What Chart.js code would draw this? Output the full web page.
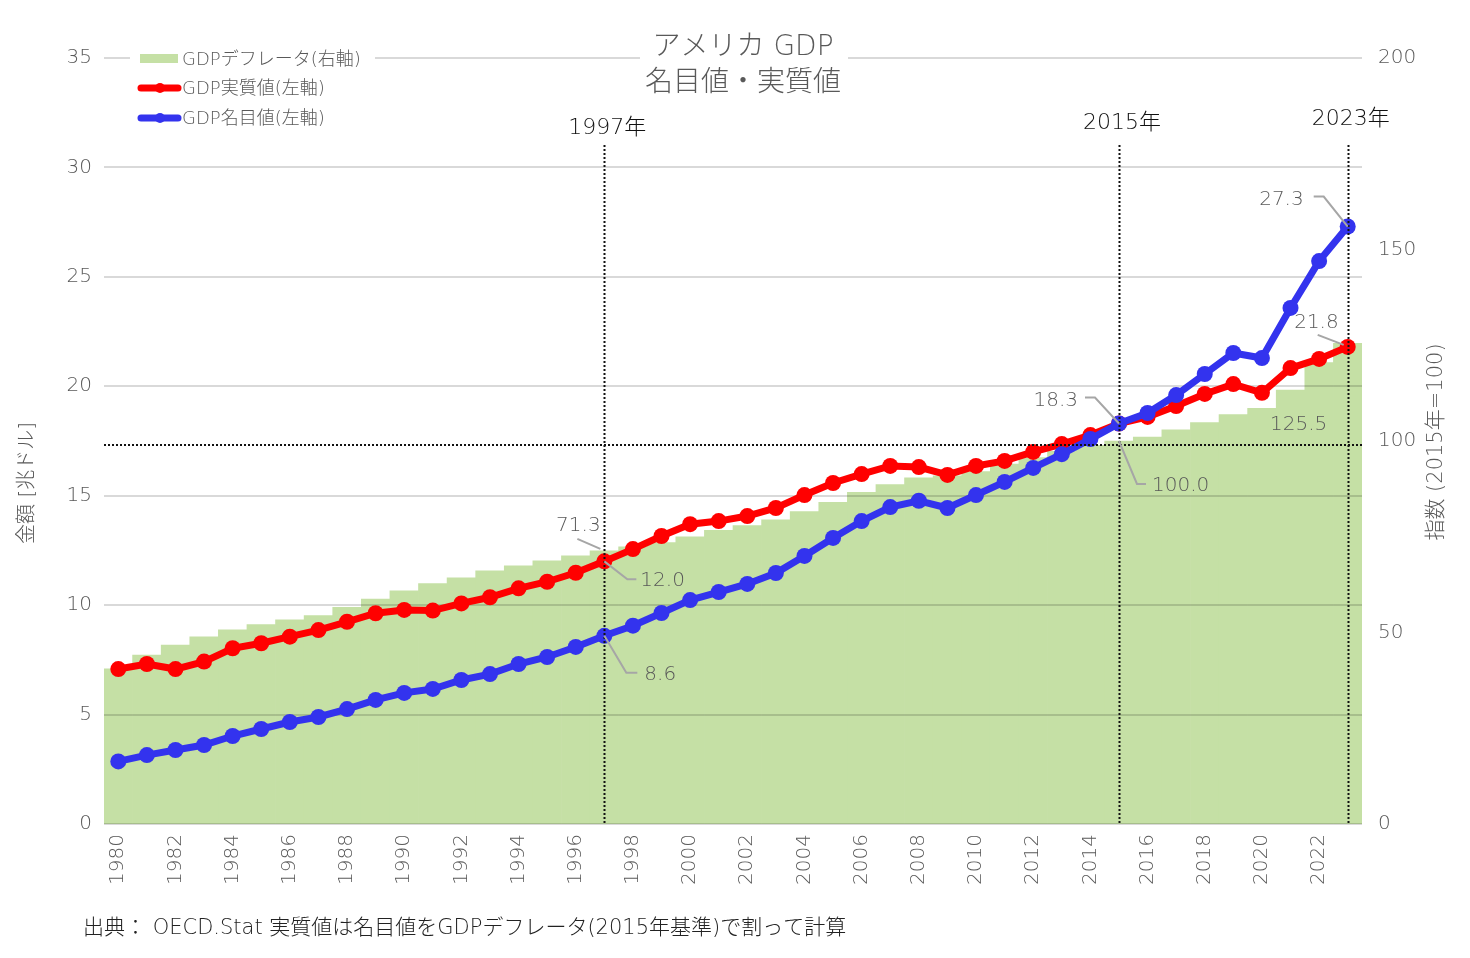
<!DOCTYPE html>
<html><head><meta charset="utf-8">
<script src="https://cdn.jsdelivr.net/npm/chart.js@4.4.0/dist/chart.umd.min.js"></script>
<style>html,body{margin:0;padding:0;background:#fff;}#wrap{position:relative;width:1470px;height:958px;}canvas{display:block;}</style>
</head><body><div id="wrap"><canvas id="c" width="1470" height="958" style="width:1470px;height:958px"></canvas></div>
<script>
const years = ["1980","1981","1982","1983","1984","1985","1986","1987","1988","1989",
"1990","1991","1992","1993","1994","1995","1996","1997","1998","1999",
"2000","2001","2002","2003","2004","2005","2006","2007","2008","2009",
"2010","2011","2012","2013","2014","2015","2016","2017","2018","2019",
"2020","2021","2022","2023"];
const nominal = [2.86,3.15,3.38,3.61,4.02,4.34,4.66,4.89,5.25,5.67,
5.99,6.17,6.58,6.85,7.31,7.63,8.09,8.6,9.06,9.64,
10.23,10.6,10.97,11.47,12.25,13.07,13.84,14.48,14.77,14.44,
15.03,15.63,16.27,16.9,17.59,18.3,18.78,19.6,20.56,21.52,
21.29,23.58,25.72,27.3];
const real = [7.08,7.31,7.08,7.42,8.03,8.26,8.56,8.86,9.24,9.63,
9.78,9.75,10.08,10.36,10.77,11.07,11.48,12.0,12.56,13.16,
13.7,13.84,14.07,14.44,15.03,15.58,15.99,16.36,16.31,15.95,
16.36,16.59,17.0,17.36,17.77,18.3,18.6,19.1,19.65,20.1,
19.7,20.83,21.25,21.8];
const deflator = [40.5,44.1,46.7,48.9,50.7,52.1,53.3,54.4,56.6,58.7,
60.9,62.8,64.3,66.1,67.4,68.7,70.0,71.3,72.4,73.5,
75.0,76.7,77.9,79.4,81.6,84.0,86.6,88.6,90.4,90.9,
92.0,94.0,95.7,97.3,98.9,100.0,101.0,102.9,104.8,106.9,
108.5,113.3,120.5,125.5];
const leftTicks = [0,5,10,15,20,25,30,35];
const rightTicks = [0,50,100,150,200];
const markYears = ["1997","2015","2023"];
const baseIndex = 100;
const titleLines = ["アメリカ GDP","名目値・実質値"];
const legendLabels = ["GDPデフレータ(右軸)","GDP実質値(左軸)","GDP名目値(左軸)"];
const leftTitle = "金額 [兆ドル]";
const rightTitle = "指数 (2015年=100)";
const sourceText = "出典： OECD.Stat 実質値は名目値をGDPデフレータ(2015年基準)で割って計算";

const FAM = "'DejaVu Sans', 'Noto Sans CJK JP', sans-serif";
const W = '200';
const GRAY = '#595959';
const GREEN = '#c5e0a5';
const RED = '#ff0000';
const BLUE = '#3333ee';

// annotations: [yearIndex, series, axis, dx, dy, align, leader]
const annos = [
  [17, deflator, 'y1', -26, -26, 'center', [[-4,-2],[-27,-12]]],
  [17, real, 'y', 36, 18, 'left', [[0,0],[23,18],[32,18]]],
  [17, nominal, 'y', 40, 38, 'left', [[0,0],[22,37],[33,37]]],
  [35, nominal, 'y', -41, -24, 'right', [[0,0],[-24,-26],[-34,-26]]],
  [35, deflator, 'y1', 33, 44, 'left', [[0,0],[18,43],[27,43]]],
  [43, nominal, 'y', -44, -28, 'right', [[0,0],[-24,-30],[-34,-30]]],
  [43, real, 'y', -9, -25, 'right', [[-4,-2],[-30,-12]]],
  [43, deflator, 'y1', -49, 80, 'center', null]
];

const overlay = {
  id: 'overlay',
  afterDatasetDraw(chart, args) {
    if (args.index !== 0) return;
    const {ctx, chartArea: a, scales: {y}} = chart;
    ctx.save();
    ctx.strokeStyle = 'rgba(0,0,0,0.15)';
    ctx.lineWidth = 2;
    for (const t of leftTicks) {
      const py = Math.round(y.getPixelForValue(t));
      ctx.beginPath(); ctx.moveTo(a.left, py); ctx.lineTo(a.right, py); ctx.stroke();
    }
    ctx.restore();
  },
  afterDatasetsDraw(chart) {
    const {ctx, chartArea: a, scales: {x, y, y1}} = chart;
    ctx.save();
    ctx.strokeStyle = '#111'; ctx.lineWidth = 2; ctx.setLineDash([2,2]);
    for (const m of markYears) {
      const px = Math.round(x.getPixelForValue(years.indexOf(m))) + 0.5;
      ctx.beginPath(); ctx.moveTo(px, 145); ctx.lineTo(px, a.bottom); ctx.stroke();
    }
    const hy = Math.round(y1.getPixelForValue(baseIndex)) + 4;
    ctx.beginPath(); ctx.moveTo(a.left, hy); ctx.lineTo(a.right, hy); ctx.stroke();
    ctx.setLineDash([]);
    ctx.fillStyle = '#111'; ctx.font = `${W} 22px ${FAM}`; ctx.textAlign = 'center'; ctx.textBaseline = 'middle';
    const ly = [128, 123, 119];
    markYears.forEach((m, i) => {
      ctx.fillText(m + '年', x.getPixelForValue(years.indexOf(m)) + 3, ly[i]);
    });
    ctx.font = `${W} 20px ${FAM}`;
    for (const [i, s, ax, dx, dy, al, lead] of annos) {
      const px = x.getPixelForValue(i), py = chart.scales[ax].getPixelForValue(s[i]);
      if (lead) {
        ctx.strokeStyle = '#a6a6a6'; ctx.lineWidth = 2;
        ctx.beginPath();
        lead.forEach((p, k) => k ? ctx.lineTo(px + p[0], py + p[1]) : ctx.moveTo(px + p[0], py + p[1]));
        ctx.stroke();
      }
      ctx.fillStyle = GRAY; ctx.textAlign = al;
      ctx.fillText(s[i].toFixed(1), px + dx, py + dy + 1);
    }
    ctx.fillStyle = '#fff'; ctx.fillRect(130, 46, 245, 26);
    ctx.fillRect(640, 30, 208, 30);
    ctx.font = `${W} 18px ${FAM}`; ctx.textAlign = 'left';
    ctx.fillStyle = GREEN; ctx.fillRect(140, 54, 38, 9);
    ctx.fillStyle = GRAY; ctx.fillText(legendLabels[0], 182, 60);
    [[RED, 88], [BLUE, 118]].forEach(([c, yy], k) => {
      ctx.strokeStyle = c; ctx.lineWidth = 7; ctx.lineCap = 'round';
      ctx.beginPath(); ctx.moveTo(141, yy); ctx.lineTo(178, yy); ctx.stroke();
      ctx.fillStyle = c; ctx.beginPath(); ctx.arc(160, yy, 5, 0, Math.PI * 2); ctx.fill();
      ctx.fillStyle = GRAY; ctx.fillText(legendLabels[k + 1], 182, yy + 1);
    });
    ctx.font = `${W} 28px ${FAM}`; ctx.textAlign = 'center'; ctx.fillStyle = GRAY;
    ctx.fillText(titleLines[0], 743, 48);
    ctx.fillText(titleLines[1], 743, 84);
    ctx.font = `${W} 20px ${FAM}`;
    ctx.save(); ctx.translate(28, 483); ctx.rotate(-Math.PI / 2); ctx.fillText(leftTitle, 0, 0); ctx.restore();
    ctx.font = `${W} 21px ${FAM}`;
    ctx.save(); ctx.translate(1437, 442); ctx.rotate(-Math.PI / 2); ctx.fillText(rightTitle, 0, 0); ctx.restore();
    ctx.font = `${W} 21px ${FAM}`; ctx.textAlign = 'left'; ctx.fillStyle = '#222';
    ctx.fillText(sourceText, 83, 929);
    ctx.restore();
  }
};

new Chart(document.getElementById('c'), {
  data: {
    labels: years,
    datasets: [
      {type: 'bar', label: legendLabels[0], data: deflator, yAxisID: 'y1', backgroundColor: GREEN,
       barPercentage: 1, categoryPercentage: 1, borderWidth: 0, order: 3},
      {type: 'line', label: legendLabels[1], data: real, yAxisID: 'y', borderColor: RED, backgroundColor: RED,
       borderWidth: 7, pointRadius: 8, pointHoverRadius: 8, pointBorderWidth: 0, tension: 0, order: 2},
      {type: 'line', label: legendLabels[2], data: nominal, yAxisID: 'y', borderColor: BLUE, backgroundColor: BLUE,
       borderWidth: 7, pointRadius: 8, pointHoverRadius: 8, pointBorderWidth: 0, tension: 0, order: 1}
    ]
  },
  options: {
    responsive: false, maintainAspectRatio: false, animation: false, devicePixelRatio: 1,
    layout: {padding: {top: 58, bottom: 0, left: 0, right: 0}},
    plugins: {legend: {display: false}, tooltip: {enabled: false}, title: {display: false}},
    scales: {
      x: {grid: {display: false, drawTicks: false}, border: {display: false},
          ticks: {autoSkip: false, maxRotation: 90, minRotation: 90, padding: 10, color: GRAY,
                  font: {family: FAM, size: 20, weight: W},
                  callback: (v, i) => i % 2 === 0 ? years[i] : ''},
          afterFit(s) { s.height = 134; }},
      y: {position: 'left', min: 0, max: 35, grid: {display: false, drawTicks: false}, border: {display: false},
          afterBuildTicks(s) { s.ticks = leftTicks.map(v => ({value: v})); },
          ticks: {padding: 12, color: GRAY, font: {family: FAM, size: 20, weight: W}},
          afterFit(s) { s.width = 104; }},
      y1: {position: 'right', min: 0, max: 200, grid: {display: false, drawTicks: false}, border: {display: false},
          afterBuildTicks(s) { s.ticks = rightTicks.map(v => ({value: v})); },
          ticks: {padding: 16, color: GRAY, font: {family: FAM, size: 20, weight: W}},
          afterFit(s) { s.width = 108; }}
    }
  },
  plugins: [overlay]
});
</script></body></html>
